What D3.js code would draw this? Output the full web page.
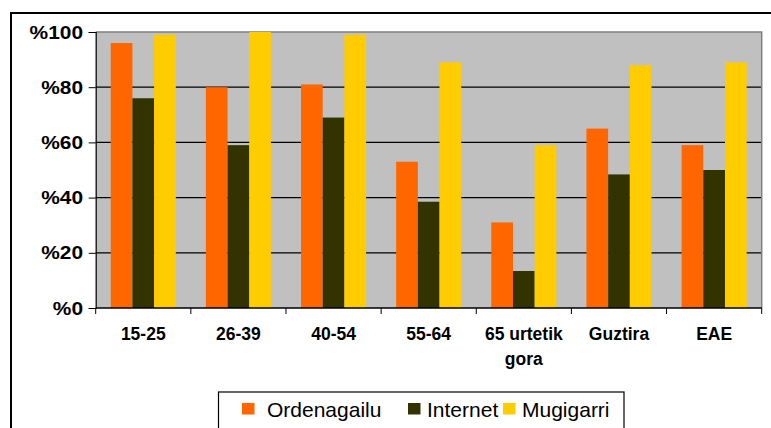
<!DOCTYPE html>
<html>
<head>
<meta charset="utf-8">
<script src="https://cdn.jsdelivr.net/npm/d3@7"></script>
<style>
  html, body { margin: 0; padding: 0; background: #fff; overflow: hidden; }
  svg { display: block; font-family: Arial, "Liberation Sans", sans-serif; }
</style>
</head>
<body>
<div id="chart"></div>
<script>
// data
const categories = ['15-25', '26-39', '40-54', '55-64', '65 urtetik gora', 'Guztira', 'EAE'];
const seriesNames = ['Ordenagailu', 'Internet', 'Mugigarri'];
const ordenagailu = [96, 80, 81, 53, 31, 65, 59];
const internet = [76, 59, 69, 38.5, 13.4, 48.4, 50];
const mugigarri = [99, 100, 99, 89, 59, 88, 89];
const yTicks = [0, 20, 40, 60, 80, 100];

const width = 771
    , height = 428
    , plot = { left: 95.7, top: 32, right: 761.7, bottom: 308 }
    , colors = ['#ff6600', '#333300', '#ffcc00']
    , plotBg = '#c0c0c0'
    ;

const series = [ordenagailu, internet, mugigarri];

const svg = d3.select('#chart')
  .append('svg')
  .attr('width', width)
  .attr('height', height);

// outer chart frame (runs off the right and bottom edges)
svg.append('rect')
  .attr('x', 11).attr('y', 13)
  .attr('width', 780).attr('height', 440)
  .attr('fill', '#fff')
  .attr('stroke', '#000')
  .attr('stroke-width', 2);

const x0 = d3.scaleBand()
  .domain(categories)
  .range([plot.left, plot.right])
  .paddingInner(0).paddingOuter(0);

const barW = x0.bandwidth() * 0.228;
const x1 = d3.scaleBand()
  .domain(seriesNames)
  .range([(x0.bandwidth() - 3 * barW) / 2, (x0.bandwidth() + 3 * barW) / 2])
  .padding(0);

const y = d3.scaleLinear()
  .domain([0, 100])
  .range([plot.bottom, plot.top]);

// plot background
svg.append('rect')
  .attr('x', plot.left).attr('y', plot.top)
  .attr('width', plot.right - plot.left)
  .attr('height', plot.bottom - plot.top)
  .attr('fill', plotBg);

// gridlines
svg.append('g')
  .selectAll('line')
  .data(yTicks.filter(t => t > 0 && t < 100))
  .join('line')
    .attr('x1', plot.left).attr('x2', plot.right)
    .attr('y1', d => y(d)).attr('y2', d => y(d))
    .attr('stroke', '#000')
    .attr('stroke-width', 1.2);

// plot border top / right
svg.append('path')
  .attr('d', `M${plot.left},${plot.top}H${plot.right}V${plot.bottom}`)
  .attr('fill', 'none')
  .attr('stroke', '#808080')
  .attr('stroke-width', 1.5);

// bars
svg.append('g')
  .selectAll('g')
  .data(categories)
  .join('g')
    .attr('transform', d => `translate(${x0(d)},0)`)
  .selectAll('rect')
  .data((d, i) => seriesNames.map((s, j) => ({ s, j, v: series[j][i] })))
  .join('rect')
    .attr('x', d => x1(d.s))
    .attr('width', x1.bandwidth())
    .attr('y', d => y(d.v))
    .attr('height', d => y(0) - y(d.v))
    .attr('fill', d => colors[d.j]);

// y axis
const yAxis = svg.append('g')
  .attr('transform', `translate(${plot.left},0)`)
  .call(d3.axisLeft(y).tickValues(yTicks).tickSize(7).tickPadding(4.5).tickFormat(d => '%' + d));
yAxis.select('.domain').attr('stroke', '#000').attr('stroke-width', 1.2);
yAxis.selectAll('.tick line').attr('stroke', '#000');
yAxis.selectAll('text')
  .attr('font-size', 19)
  .attr('font-weight', 'bold')
  .attr('font-family', 'Arial, "Liberation Sans", sans-serif')
  .attr('fill', '#000')
  .attr('transform', 'scale(1.1,1)');

// x axis
svg.append('line')
  .attr('x1', plot.left).attr('x2', plot.right)
  .attr('y1', plot.bottom).attr('y2', plot.bottom)
  .attr('stroke', '#000').attr('stroke-width', 1.5);

svg.append('g')
  .selectAll('line')
  .data(d3.range(categories.length + 1))
  .join('line')
    .attr('x1', i => plot.left + i * x0.step())
    .attr('x2', i => plot.left + i * x0.step())
    .attr('y1', plot.bottom).attr('y2', plot.bottom + 6)
    .attr('stroke', '#000');

const xLabels = svg.append('g')
  .selectAll('text')
  .data(categories)
  .join('text')
    .attr('x', d => x0(d) + x0.bandwidth() / 2)
    .attr('y', 340)
    .attr('text-anchor', 'middle')
    .attr('font-size', 17.5)
    .attr('font-weight', 'bold')
    .attr('fill', '#000');

xLabels.each(function(d) {
  const t = d3.select(this);
  const words = d === '65 urtetik gora' ? ['65 urtetik', 'gora'] : [d];
  words.forEach((w, i) => {
    t.append('tspan')
      .attr('x', x0(d) + x0.bandwidth() / 2)
      .attr('dy', i === 0 ? 0 : 25)
      .text(w);
  });
});

// legend
const legend = svg.append('g');
legend.append('rect')
  .attr('x', 218.5).attr('y', 392)
  .attr('width', 405.5).attr('height', 60)
  .attr('fill', '#fff')
  .attr('stroke', '#000')
  .attr('stroke-width', 1.2);

const legendX = [242, 408, 503];
const item = legend.selectAll('g.item')
  .data(seriesNames)
  .join('g')
    .attr('class', 'item')
    .attr('transform', (d, i) => `translate(${legendX[i]},0)`);

item.append('rect')
  .attr('x', 0).attr('y', 403)
  .attr('width', 12.5).attr('height', 11.5)
  .attr('fill', (d, i) => colors[i]);

item.append('text')
  .attr('x', (d, i) => i === 0 ? 25 : 19)
  .attr('y', 417)
  .attr('font-size', 21)
  .attr('fill', '#000')
  .text(d => d);
</script>
</body>
</html>
